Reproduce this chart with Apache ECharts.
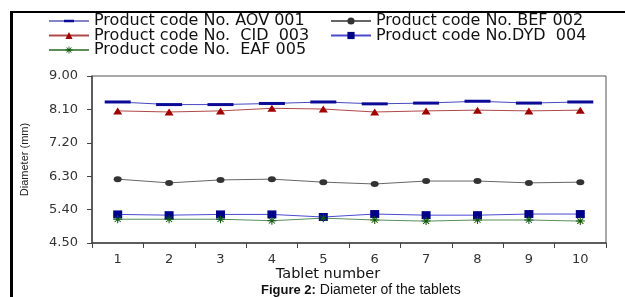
<!DOCTYPE html>
<html>
<head>
<meta charset="utf-8">
<script src="https://cdn.jsdelivr.net/npm/echarts@6/dist/echarts.min.js"></script>
<style>
	html,body{margin:0;padding:0;background:#fff;}
	#main{width:625px;height:297px;}
</style>
</head>
<body>
<div id="main"></div>
<script>
//数据
var tablets = ['1','2','3','4','5','6','7','8','9','10'];
var aov001 = [8.30,8.23,8.23,8.26,8.30,8.25,8.27,8.32,8.27,8.30];
var bef002 = [6.22,6.12,6.20,6.22,6.14,6.09,6.17,6.17,6.12,6.14];
var cid003 = [8.06,8.03,8.06,8.13,8.11,8.03,8.06,8.08,8.06,8.08];
var dyd004 = [5.27,5.25,5.27,5.27,5.20,5.28,5.25,5.25,5.28,5.28];
var eaf005 = [5.14,5.14,5.14,5.10,5.17,5.12,5.09,5.12,5.12,5.09];
var yTicks = {min: 4.5, max: 9.0, step: 0.9};

var names = ['Product code No. AOV 001','Product code No. BEF 002','Product code No.  CID  003','Product code No.DYD  004','Product code No.  EAF 005'];

//星号
var starPath = 'path://M0,4.4 L10,4.4 L10,5.6 L0,5.6 Z M4.4,0 L5.6,0 L5.6,10 L4.4,10 Z M1.2,2 L2,1.2 L8.8,8 L8,8.8 Z M8,1.2 L8.8,2 L2,8.8 L1.2,8 Z';
//图例里的短横
var dashIcon = 'path://M0,4.5 L40,4.5 L40,5.3 L0,5.3 Z M15,3.6 L25,3.6 L25,6.2 L15,6.2 Z';

var dom = document.getElementById("main");
var myChart = echarts.init(dom, null, {renderer: 'canvas'});
var option = null;

var legendText = {
	fontFamily: 'DejaVu Sans',
	fontSize: 16,
	color: '#111',
	lineHeight: 15
};

option = {
	animation: false,
	backgroundColor: '#fff',
	textStyle: {fontFamily: 'DejaVu Sans'},
	legend: [
		{
			orient: 'vertical',
			left: 48,
			top: 13,
			padding: 0,
			itemWidth: 40,
			itemHeight: 9,
			itemGap: -1.5,
			textStyle: legendText,
			data: [{name: names[0], icon: dashIcon}, names[2], names[4]]
		},
		{
			orient: 'vertical',
			left: 330,
			top: 13,
			padding: 0,
			itemWidth: 40,
			itemHeight: 9,
			itemGap: -1.5,
			textStyle: legendText,
			data: [names[1], names[3]]
		}
	],
	grid: {
		left: 92,
		right: 19,
		top: 76,
		bottom: 54,
		show: true,
		borderColor: '#555',
		borderWidth: 1
	},
	xAxis: {
		type: 'category',
		data: tablets,
		boundaryGap: true,
		name: 'Tablet number',
		nameLocation: 'middle',
		nameGap: 24,
		nameMoveOverlap: false,
		nameTextStyle: {
			fontFamily: 'DejaVu Sans',
			fontSize: 14.5,
			color: '#111',
			padding: [0, 42, 0, 0]
		},
		axisLine: {lineStyle: {color: '#444', width: 1.5}},
		axisTick: {show: true, inside: false, length: 5, lineStyle: {color: '#444'}},
		axisLabel: {margin: 10, fontFamily: 'DejaVu Sans', fontSize: 13, color: '#333'},
		splitLine: {show: false}
	},
	yAxis: {
		type: 'value',
		min: yTicks.min,
		max: yTicks.max,
		interval: yTicks.step,
		name: 'Diameter (mm)',
		nameLocation: 'middle',
		nameGap: 62,
		nameTextStyle: {
			fontFamily: 'Liberation Sans',
			fontSize: 11,
			color: '#222'
		},
		axisLine: {show: true, lineStyle: {color: '#444', width: 1.5}},
		axisTick: {show: true, inside: false, length: 5, lineStyle: {color: '#444'}},
		axisLabel: {
			margin: 14,
			fontFamily: 'DejaVu Sans',
			fontSize: 13,
			color: '#333',
			formatter: function (v) { return v.toFixed(2); }
		},
		splitLine: {show: false}
	},
	series: [
		{
			name: names[0],
			type: 'line',
			data: aov001,
			symbol: 'rect',
			symbolSize: [26, 3],
			itemStyle: {color: '#0a0a96'},
			lineStyle: {color: '#4848c0', width: 1}
		},
		{
			name: names[1],
			type: 'line',
			data: bef002,
			symbol: 'circle',
			symbolSize: [8, 6],
			itemStyle: {color: '#333'},
			lineStyle: {color: '#666', width: 1}
		},
		{
			name: names[2],
			type: 'line',
			data: cid003,
			symbol: 'triangle',
			symbolSize: [9, 7],
			itemStyle: {color: '#a00000'},
			lineStyle: {color: '#b04848', width: 1}
		},
		{
			name: names[3],
			type: 'line',
			data: dyd004,
			symbol: 'rect',
			symbolSize: [9, 8],
			itemStyle: {color: '#000088'},
			lineStyle: {color: '#4a4ad0', width: 1}
		},
		{
			name: names[4],
			type: 'line',
			data: eaf005,
			symbol: starPath,
			symbolSize: [9, 8],
			itemStyle: {color: '#0f5a0f'},
			lineStyle: {color: '#5a8e5a', width: 1}
		}
	],
	graphic: [
		//外框
		{type: 'line', shape: {x1: 11, y1: 12, x2: 625, y2: 12}, style: {stroke: '#000', lineWidth: 2}},
		{type: 'line', shape: {x1: 11.5, y1: 11, x2: 11.5, y2: 297}, style: {stroke: '#000', lineWidth: 3}},
		//图题
		{
			type: 'text',
			left: 261,
			top: 283,
			style: {
				text: '{b|Figure 2:} Diameter of the tablets',
				rich: {
					b: {fontFamily: 'Liberation Sans', fontSize: 13, fontWeight: 'bold', fill: '#111'}
				},
				font: '14px "Liberation Sans"',
				fill: '#111'
			}
		}
	]
};
if (option && typeof option === "object") {
	myChart.setOption(option, true);
}
</script>
</body>
</html>
